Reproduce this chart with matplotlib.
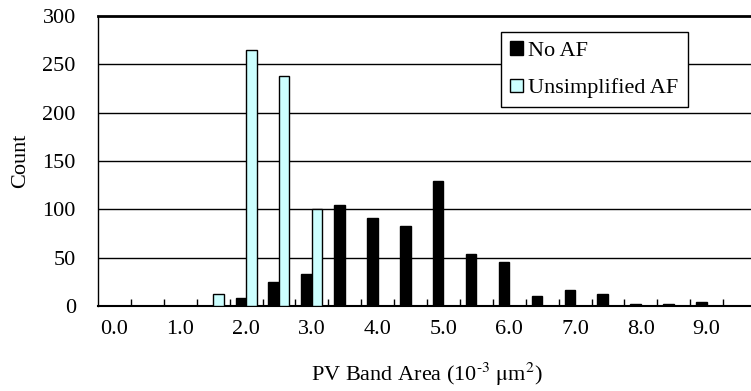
import matplotlib
matplotlib.use("Agg")
import matplotlib.pyplot as plt
import numpy as np
from matplotlib.patches import Patch

plt.rcParams['font.family'] = ['Liberation Serif', 'DejaVu Serif']
plt.rcParams['mathtext.fontset'] = 'stix'

categories = [f"{v:.1f}" for v in np.arange(0, 10, 0.5)]
no_af = [0, 0, 0, 0, 8, 25, 33, 104, 91, 83, 129, 54, 46, 10, 17, 12, 2, 2, 4, 0]
unsimplified = [0, 0, 0, 12, 265, 238, 100, 0, 0, 0, 0, 0, 0, 0, 0, 0, 0, 0, 0, 0]
tick_labels = ["0.0", "1.0", "2.0", "3.0", "4.0", "5.0", "6.0", "7.0", "8.0", "9.0"]

W, H = 751, 391
FS = 16
fig = plt.figure(figsize=(W / 100, H / 100), dpi=100)
ax = fig.add_axes([98 / W, (H - 306) / H, 658 / W, 290 / H])

x = np.arange(len(categories))
bw = 0.32
ax.bar(x - bw / 2, no_af, width=bw, color='black', edgecolor='black', linewidth=1, zorder=3)
ax.bar(x + bw / 2, unsimplified, width=bw, color='#CCFFFF', edgecolor='black', linewidth=1, zorder=3)

ax.set_xlim(-0.5, len(categories) - 0.5)
ax.set_ylim(0, 300)
ax.set_yticks(range(0, 301, 50))
for yv in range(50, 300, 50):
    ax.axhline(yv, color='black', linewidth=1, zorder=1)

ax.set_xticks(x[::2])
ax.set_xticklabels(tick_labels, fontsize=FS)
ax.tick_params(axis='x', length=0, pad=10)
ax.set_xticks(np.arange(0.5, len(categories) - 0.5, 1), minor=True)
ax.tick_params(axis='x', which='minor', direction='in', length=5, width=1, color='black')
ax.tick_params(axis='y', length=0, pad=16, labelsize=FS)

ax.spines['right'].set_visible(False)
ax.spines['top'].set_linewidth(2)
ax.spines['bottom'].set_linewidth(1.5)
ax.spines['left'].set_linewidth(1)

ax.set_ylabel('Count', fontsize=FS, labelpad=9)
ax.set_xlabel(r'PV Band Area (10$^{\text{-}3}$ $\mathrm{\mu}$m$^{2}$)', fontsize=FS, labelpad=16)

handles = [Patch(facecolor='black', edgecolor='black', label='No AF'),
           Patch(facecolor='#CCFFFF', edgecolor='black', label='Unsimplified AF')]
leg = ax.legend(handles=handles, loc='upper left', bbox_to_anchor=((501 - 98) / 658, (306 - 32) / 290),
                fontsize=FS, frameon=True, fancybox=False, edgecolor='black', framealpha=1,
                handlelength=0.55, handleheight=0.55, handletextpad=0.25, borderpad=0.42,
                labelspacing=0.78, borderaxespad=0)
leg.get_frame().set_linewidth(1)

fig.savefig('out.png', dpi=100)
